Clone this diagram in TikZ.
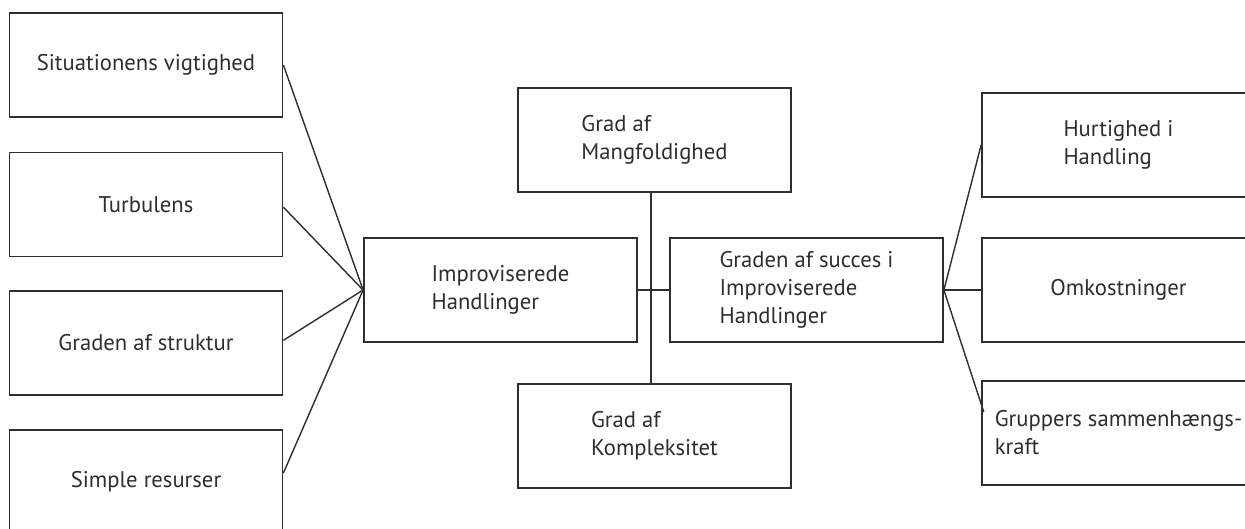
\documentclass[tikz,border=0pt]{standalone}
\usepackage{fontspec}
\setmainfont{PT Sans}
\usetikzlibrary{calc}
\definecolor{ink}{HTML}{2E2E2E}
\begin{document}
\begin{tikzpicture}[x=0.75pt,y=-0.75pt,
  box/.style={draw=ink, line width=1.35pt, rectangle, inner sep=0pt,
    minimum width=204.75pt, minimum height=78pt, align=left, text=ink,
    font=\fontsize{17}{21}\selectfont},
  link/.style={draw=ink, line width=1.05pt}]
\clip (0,0) rectangle (1245,528);
\fill[white] (0,0) rectangle (1245,528);

% left column of factors
\node[box] (sit) at (146,65)  {Situationens vigtighed};
\node[box] (tur) at (146,204.5) {Turbulens};
\node[box] (str) at (146,343) {Graden af struktur};
\node[box] (res) at (146,482) {Simple resurser};

% centre
\node[box] (imp)  at (500.5,290) {Improviserede\\Handlinger};
\node[box] (mang) at (654.5,140) {Grad af\\Mangfoldighed};
\node[box] (komp) at (654.5,436) {Grad af\\Kompleksitet};
\node[box] (succ) at (806.5,290) {Graden af succes i\\Improviserede\\Handlinger};

% right column of outcomes
\node[box] (hurt) at (1118.5,145) {Hurtighed i\\Handling};
\node[box] (omk)  at (1118.5,290) {Omkostninger};
\node[box] (grp)  at (1118.5,433) {Gruppers sammenhængs-\\kraft};

% connectors
\draw[link] (sit.east) -- (imp.west);
\draw[link] ([yshift=-2pt]tur.east) -- (imp.west);
\draw[link] ([yshift=2pt]str.east) -- (imp.west);
\draw[link] ([yshift=6.75pt]res.east) -- (imp.west);

\draw[link] ([xshift=-2.6pt]mang.south) -- ([xshift=-2.6pt]komp.north);
\draw[link] (imp.east) -- (succ.west);

\draw[link] (succ.east) -- (hurt.west);
\draw[link] (succ.east) -- (omk.west);
\draw[link] (succ.east) -- ([xshift=2pt,yshift=15.75pt]grp.west);
\end{tikzpicture}
\end{document}
